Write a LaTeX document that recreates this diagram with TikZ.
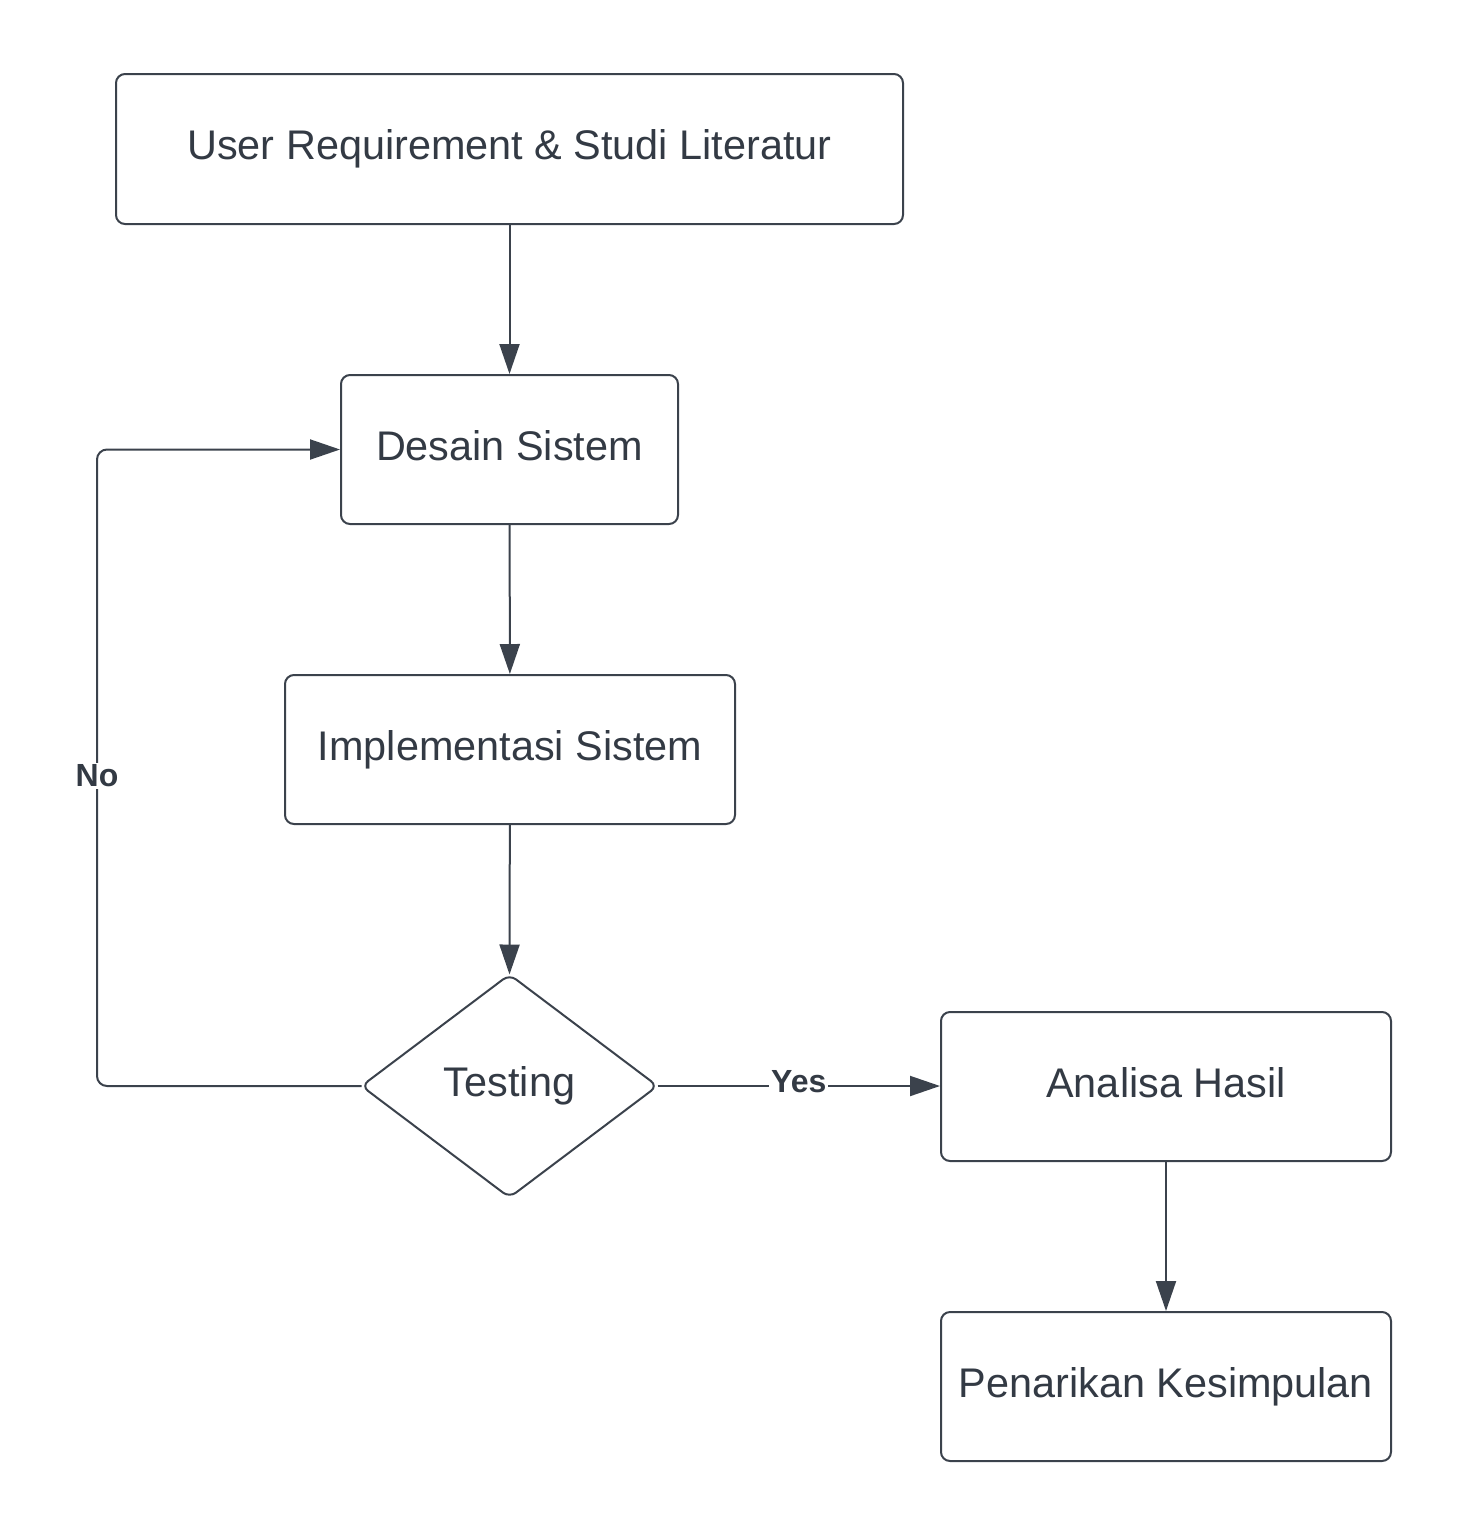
\documentclass[tikz,border=0pt]{standalone}
\usepackage{fontspec}
\setmainfont{Liberation Sans}
\usetikzlibrary{arrows.meta,shapes.geometric}
\definecolor{linegray}{HTML}{3B424C}
\definecolor{textgray}{HTML}{333A44}
\tikzset{
  stepbox/.style={draw=linegray, line width=1pt, rounded corners=4.5pt, fill=white,
    text=textgray, font=\fontsize{20.7}{24}\selectfont, inner sep=0pt,
    text height=15pt, text depth=4.5pt},
  decision/.style={draw=linegray, line width=1pt, diamond, rounded corners=4pt, fill=white,
    text=textgray, font=\fontsize{20.7}{24}\selectfont, inner sep=0pt, outer sep=0pt,
    text height=15pt, text depth=4.5pt,
    minimum width=148pt, minimum height=111.5pt},
  flow/.style={draw=linegray, line width=1pt, -{Triangle[length=15pt,width=10pt]}, fill=none},
  answer/.style={text=textgray, fill=white, font=\bfseries\fontsize{16}{19}\selectfont, inner sep=1pt}
}
\begin{document}
\begin{tikzpicture}[x=0.5pt,y=-0.5pt]
\useasboundingbox (0,0) rectangle (1466,1538);

\node[stepbox, minimum width=393.5pt, minimum height=75pt] (studi) at (509.5,149) {User Requirement \& Studi Literatur};
\node[stepbox, minimum width=168.5pt, minimum height=74.5pt] (desain) at (509.5,449.5) {Desain Sistem};
\node[stepbox, minimum width=225pt, minimum height=74.5pt] (implementasi) at (510,749.5) {Implementasi Sistem};
\node[decision] (testing) at (509.5,1086) {Testing};
\node[stepbox, minimum width=225pt, minimum height=74.5pt] (analisa) at (1166,1086.5) {Analisa Hasil};
\node[stepbox, minimum width=225pt, minimum height=74.5pt] (kesimpulan) at (1166,1386.5) {Penarikan Kesimpulan};

\coordinate (loopbottom) at (97,1086);
\coordinate (looptop) at (97,449.5);

% alur utama
\draw[flow] (studi) -- (desain);
\draw[flow] (desain) -- (implementasi);
\draw[flow] (implementasi) -- (testing.north);
\draw[flow] (analisa) -- (kesimpulan);

% keputusan
\draw[flow] (testing.east) -- (analisa.west |- testing.east) node[answer, pos=0.5, yshift=2pt] (yes) {Yes};
\draw[flow, rounded corners=5pt] (testing.west) -- (loopbottom) -- (looptop) -- (desain.west);
\node[answer] (no) at (97,776) {No};
\end{tikzpicture}
\end{document}
